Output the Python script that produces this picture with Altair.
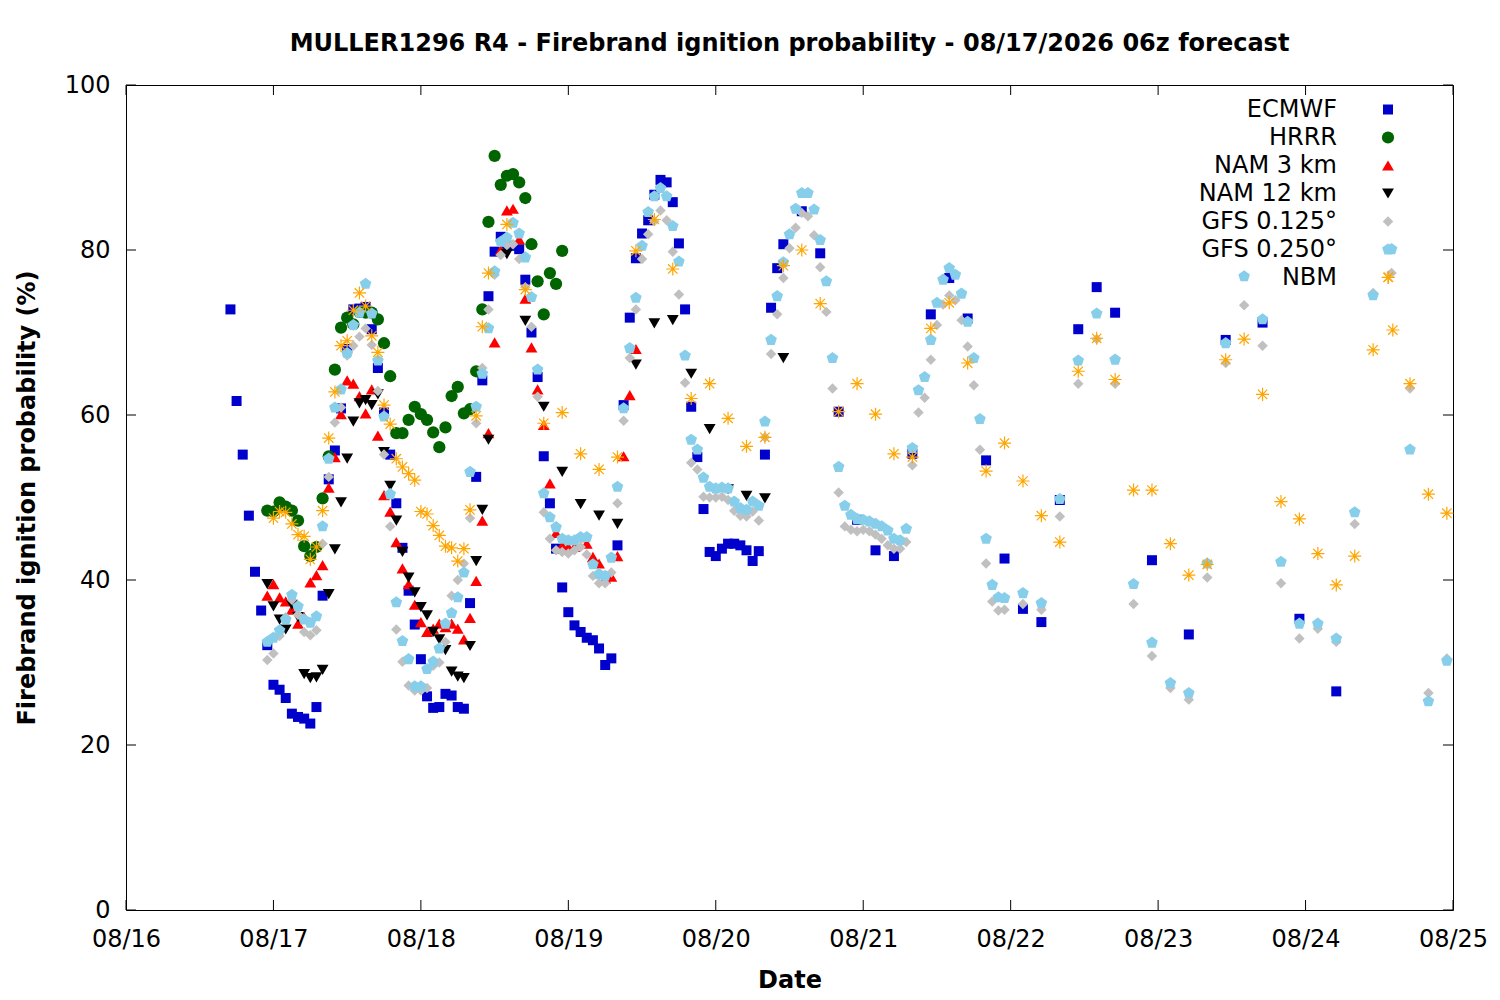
import altair as alt
import pandas as pd

# ---------------- data (hours since 08/16 00z, probability %) ----------------
days = ["08/16", "08/17", "08/18", "08/19", "08/20", "08/21", "08/22", "08/23", "08/24", "08/25"]
day_hours = [0, 24, 48, 72, 96, 120, 144, 168, 192, 216]
y_ticks = [0, 20, 40, 60, 80, 100]

ecmwf_h = list(range(17, 108)) + [110, 113, 116, 119, 122, 125, 128, 131, 134, 137, 140, 143,
                                  146, 149, 152, 155, 158, 161, 167, 173, 179, 185, 191, 197]
ecmwf_v = [72.8, 61.7, 55.2, 47.8, 41.0, 36.3, 32.1, 27.3, 26.7, 25.7,
           23.8, 23.4, 23.2, 22.6, 24.6, 38.1, 52.2, 55.7, 60.8, 68.0,
           72.8, 72.9, 73.1, 70.4, 65.7, 60.3, 55.2, 49.3, 43.9, 38.7,
           34.6, 30.4, 25.9, 24.5, 24.6, 26.2, 26.0, 24.6, 24.4, 37.2,
           52.5, 64.2, 74.4, 79.8, 81.6, 80.5, 80.5, 80.1, 76.4, 70.0,
           64.6, 55.0, 49.3, 43.8, 39.1, 36.1, 34.5, 33.7, 33.0, 32.7,
           31.7, 29.7, 30.5, 44.2, 61.2, 71.8, 79.0, 82.0, 83.6, 86.7,
           88.5, 88.2, 85.8, 80.8, 72.8, 61.0, 54.9, 48.6, 43.4, 42.9,
           43.8, 44.4, 44.4, 44.2, 43.6, 42.3, 43.5, 55.2, 73.0, 77.8,
           80.7,
           84.7, 79.6, 60.4, 47.3, 43.6, 42.9, 55.3, 72.2, 76.6, 71.7, 54.5, 42.6,
           36.5, 34.9, 49.7, 70.4, 75.5, 72.4, 42.4, 33.4, 69.1, 71.2, 35.3, 26.5]

hrrr_h = list(range(23, 72))
hrrr_v = [48.4, 48.3, 49.4, 48.9, 48.4, 47.2, 44.1, 42.9, 44.0, 49.9,
          55.0, 65.5, 70.6, 71.8, 71.0, 72.5, 72.4, 72.4, 71.6, 68.7,
          64.7, 57.8, 57.8, 59.4, 61.0, 60.1, 59.4, 57.9, 56.1, 58.5,
          62.3, 63.4, 60.2, 60.7, 65.3, 72.8, 83.4, 91.4, 87.9, 89.0,
          89.2, 88.2, 86.3, 80.7, 76.2, 72.2, 77.2, 75.9, 79.9]

nam3_h = list(range(23, 84))
nam3_v = [38.1, 39.5, 37.9, 37.4, 36.4, 34.7, 35.5, 39.7, 40.6, 41.8,
          51.2, 54.9, 60.1, 64.2, 63.8, 62.3, 60.2, 63.1, 57.5, 50.3,
          48.3, 44.6, 41.4, 39.5, 37.0, 34.9, 33.7, 34.1, 34.7, 34.3,
          34.7, 34.1, 32.8, 35.4, 39.9, 47.2, 57.8, 68.8, 80.0, 84.8,
          85.0, 81.3, 74.1, 68.2, 63.1, 58.8, 51.7, 45.7, 44.2, 44.0,
          44.0, 45.2, 44.4, 42.8, 42.0, 40.2, 40.4, 42.9, 55.0, 62.4,
          68.0]

nam12_h = list(range(23, 60)) + [62, 65, 68, 71, 74, 77, 80, 83, 86, 89, 92, 95, 98, 101, 104, 107]
nam12_v = [39.5, 36.8, 35.2, 34.0, 37.0, 35.5, 28.6, 28.1, 28.2, 29.1,
           38.3, 43.7, 49.4, 54.7, 59.2, 61.4, 61.8, 61.2, 62.5, 55.5,
           51.4, 47.2, 43.4, 40.3, 38.5, 36.7, 35.7, 33.7, 32.8, 31.5,
           28.9, 28.3, 28.1, 32.0, 42.3, 48.5, 57.0,
           79.5, 71.4, 61.0, 53.1, 49.2, 47.8, 46.8, 66.1, 71.1, 71.5, 65.0, 58.3,
           51.0, 50.2, 49.9, 66.9]

gfs3h = [146, 149, 152, 155, 158, 161, 164, 167, 170, 173, 176, 179,
         182, 185, 188, 191, 194, 197, 200, 203, 206, 209, 212, 215]

gfs125_h = list(range(23, 144)) + gfs3h
gfs125_v = [30.3, 31.1, 33.2, 35.5, 37.6, 35.8, 33.7, 33.3, 33.9, 44.4,
            52.5, 59.1, 60.9, 67.2, 68.4, 69.5, 70.5, 68.5, 62.9, 55.2,
            46.5, 34.0, 30.1, 27.2, 26.6, 26.6, 26.9, 29.6, 30.0, 32.5,
            38.1, 40.0, 42.0, 47.5, 59.0, 65.7, 72.8, 77.0, 79.4, 80.6,
            80.7, 78.9, 75.5, 70.7, 62.2, 48.2, 45.0, 43.6, 43.4, 43.2,
            43.6, 44.0, 43.1, 40.5, 39.6, 39.6, 40.9, 49.3, 59.3, 66.9,
            72.8, 78.9, 81.9, 83.5, 84.8, 83.6, 79.8, 74.6, 63.9, 54.2,
            53.4, 50.1, 50.0, 50.0, 50.1, 49.7, 48.4, 47.8, 47.7, 48.3,
            47.2, 57.3, 67.4, 72.2, 76.6, 80.2, 82.7, 84.5, 84.1, 81.8,
            77.9, 72.5, 63.2, 50.6, 46.5, 46.1, 45.9, 46.1, 45.9, 45.5,
            45.0, 44.2, 43.8, 43.8, 44.6, 53.9, 60.3, 62.1, 66.7, 70.9,
            73.4, 74.5, 73.9, 71.5, 68.3, 63.6, 55.8, 42.0, 37.4, 36.3,
            36.4,
            37.1, 36.4, 47.7, 63.8, 69.2, 63.8, 37.1, 30.8, 26.9, 25.5, 40.3, 66.3,
            73.3, 68.4, 39.6, 32.9, 34.1, 32.5, 46.8, 74.8, 77.2, 63.2, 26.3, 30.5]

gfs250_h = list(range(23, 144)) + gfs3h
gfs250_v = [32.5, 33.0, 33.9, 35.2, 38.2, 36.8, 35.2, 34.8, 35.6, 46.5,
            54.7, 60.9, 63.1, 67.5, 70.9, 72.4, 75.9, 72.3, 66.6, 59.8,
            50.4, 37.3, 32.6, 30.4, 27.1, 27.1, 29.2, 30.1, 31.7, 34.7,
            36.0, 37.9, 40.9, 53.1, 61.0, 65.0, 70.5, 77.4, 81.0, 81.5,
            83.3, 82.0, 79.1, 74.3, 65.5, 50.5, 47.6, 46.4, 45.0, 44.8,
            44.8, 45.2, 45.2, 41.9, 40.7, 40.5, 42.7, 51.3, 60.8, 68.1,
            74.2, 80.5, 84.6, 86.5, 87.5, 86.5, 82.9, 78.6, 67.2, 57.0,
            55.8, 52.4, 51.3, 51.1, 51.2, 51.1, 49.5, 48.7, 48.5, 49.5,
            49.0, 59.2, 69.1, 74.4, 78.5, 81.9, 85.0, 86.9, 86.9, 84.9,
            81.2, 76.2, 66.9, 53.7, 49.0, 47.9, 47.4, 47.3, 47.1, 46.8,
            46.5, 46.0, 45.0, 44.8, 46.2, 56.0, 63.0, 64.6, 69.1, 73.6,
            76.4, 77.8, 77.0, 74.7, 71.3, 66.9, 59.5, 45.0, 39.4, 37.9,
            37.8,
            38.4, 37.2, 49.8, 66.6, 72.3, 66.7, 39.5, 32.4, 27.5, 26.3, 42.0, 68.7,
            76.8, 71.6, 42.2, 34.7, 34.7, 32.9, 48.2, 74.5, 80.1, 55.8, 25.3, 30.2]

nbm_h = list(range(24, 60)) + list(range(62, 204, 3)) + [205.5, 206.2, 209, 212, 215]
nbm_v = [47.5, 48.3, 48.2, 46.8, 45.5, 45.3, 42.5, 44.0, 48.4, 57.2,
         62.8, 68.4, 69.0, 72.7, 74.8, 73.2, 69.6, 67.6, 61.2, 58.9,
         54.7, 53.7, 52.9, 52.1, 48.3, 48.0, 46.6, 45.4, 44.1, 43.9,
         42.3, 43.8, 48.5, 59.9, 70.7, 77.2,
         83.1, 75.2, 59.0, 60.3, 55.3, 53.4, 54.9, 79.9, 83.7, 77.7,
         62.0, 63.8, 59.6, 56.2, 57.3, 78.1, 80.0, 73.5, 60.4, 63.8,
         60.1, 55.3, 54.9, 70.5, 73.6, 66.3, 53.2, 56.6, 52.0, 47.8,
         44.6, 65.3, 69.3, 64.3, 50.9, 50.9, 44.4, 40.6, 41.9, 66.7,
         69.2, 62.5, 49.5, 47.4, 43.2, 39.4, 42.9, 67.9,
         76.7, 70.3, 63.8, 50.4, 48.1]

series_names = ["ECMWF", "HRRR", "NAM 3 km", "NAM 12 km", "GFS 0.125°", "GFS 0.250°", "NBM"]

# ---------------- styling ----------------
PENT = "M0,-1L0.951,-0.309L0.588,0.809L-0.588,0.809L-0.951,-0.309Z"
AST = "M-1,0L1,0M0,-1L0,1M-0.72,-0.72L0.72,0.72M-0.72,0.72L0.72,-0.72"
styles = [
    ("square", "#0000cd", True, 100),
    ("circle", "#006400", True, 150),
    ("triangle-up", "#ff0000", True, 140),
    ("triangle-down", "#000000", True, 140),
    ("diamond", "#c0c0c0", True, 110),
    (PENT, "#87ceeb", True, 150),
    (AST, "#ffa500", False, 170),
]
data_lists = [(ecmwf_h, ecmwf_v), (hrrr_h, hrrr_v), (nam3_h, nam3_v), (nam12_h, nam12_v),
              (gfs125_h, gfs125_v), (gfs250_h, gfs250_v), (nbm_h, nbm_v)]

W, H = 1327, 825
FONT = "DejaVu Sans"
FS = 24
xs = alt.Scale(domain=[0, 216], nice=False, zero=False)
ys = alt.Scale(domain=[0, 100], nice=False)
label_expr = "[" + ",".join("'%s'" % d for d in days) + "][round(datum.value/24)]"

x_axis = alt.Axis(values=day_hours, labelExpr=label_expr, title="Date", grid=False,
                  domain=False, ticks=False, labelPadding=17, labelFlush=False,
                  labelOverlap=False,
                  titleX=W / 2, titleY=70, titleBaseline="middle")
y_axis = alt.Axis(values=y_ticks, title="Firebrand ignition probability (%)", grid=False,
                  domain=False, ticks=False, labelPadding=16, labelFlush=False,
                  labelOverlap=False,
                  titleX=-99, titleY=H / 2, titleAngle=270, titleBaseline="middle",
                  titleAlign="center")


def mark_for(shape, color, filled, size):
    if filled:
        return dict(shape=shape, filled=True, color=color, size=size, opacity=1, strokeWidth=0)
    return dict(shape=shape, filled=False, color=color, size=size, opacity=1, strokeWidth=1.2)


layers = []
for i, ((hs, vs), (shape, color, filled, size)) in enumerate(zip(data_lists, styles)):
    df = pd.DataFrame({"h": hs, "v": vs})
    if i == 0:
        enc = dict(x=alt.X("h:Q", scale=xs, axis=x_axis), y=alt.Y("v:Q", scale=ys, axis=y_axis))
    else:
        enc = dict(x=alt.X("h:Q", scale=xs), y=alt.Y("v:Q", scale=ys))
    layers.append(alt.Chart(df).mark_point(**mark_for(shape, color, filled, size)).encode(**enc))

# inward tick marks on all four sides
tx = pd.DataFrame({"h": day_hours})
ty = pd.DataFrame({"v": y_ticks})
layers.append(alt.Chart(tx).mark_rule(color="black", strokeWidth=1).encode(
    x=alt.X("h:Q", scale=xs), y=alt.value(H), y2=alt.value(H - 10)))
layers.append(alt.Chart(tx).mark_rule(color="black", strokeWidth=1).encode(
    x=alt.X("h:Q", scale=xs), y=alt.value(0), y2=alt.value(10)))
layers.append(alt.Chart(ty).mark_rule(color="black", strokeWidth=1).encode(
    y=alt.Y("v:Q", scale=ys), x=alt.value(0), x2=alt.value(10)))
layers.append(alt.Chart(ty).mark_rule(color="black", strokeWidth=1).encode(
    y=alt.Y("v:Q", scale=ys), x=alt.value(W), x2=alt.value(W - 10)))

# legend (text right-aligned, symbol at right), top-right inside the plot
for i, (name, (shape, color, filled, size)) in enumerate(zip(series_names, styles)):
    ldf = pd.DataFrame({"name": [name]})
    yy = 24.5 + 28 * i
    layers.append(alt.Chart(ldf).mark_text(align="right", baseline="middle", font=FONT,
                                           fontSize=FS, color="black").encode(
        text="name:N", x=alt.value(1211), y=alt.value(yy)))
    layers.append(alt.Chart(ldf).mark_point(**mark_for(shape, color, filled, size)).encode(
        x=alt.value(1262), y=alt.value(yy)))

chart = alt.layer(*layers).properties(
    width=W, height=H,
    background="white",
    title=alt.TitleParams("MULLER1296 R4 - Firebrand ignition probability - 08/17/2026 06z forecast",
                          font=FONT, fontSize=FS, fontWeight="bold", anchor="middle",
                          offset=17, color="black"),
    autosize=alt.AutoSizeParams(type="none"),
    padding={"left": 118, "top": 77, "right": 38, "bottom": 82},
).configure_view(stroke="black", strokeWidth=1).configure_axis(
    labelFont=FONT, labelFontSize=FS, labelColor="black",
    titleFont=FONT, titleFontSize=FS, titleFontWeight="bold", titleColor="black",
)

chart.save("out.html", embed_options={"renderer": "svg", "actions": False})
